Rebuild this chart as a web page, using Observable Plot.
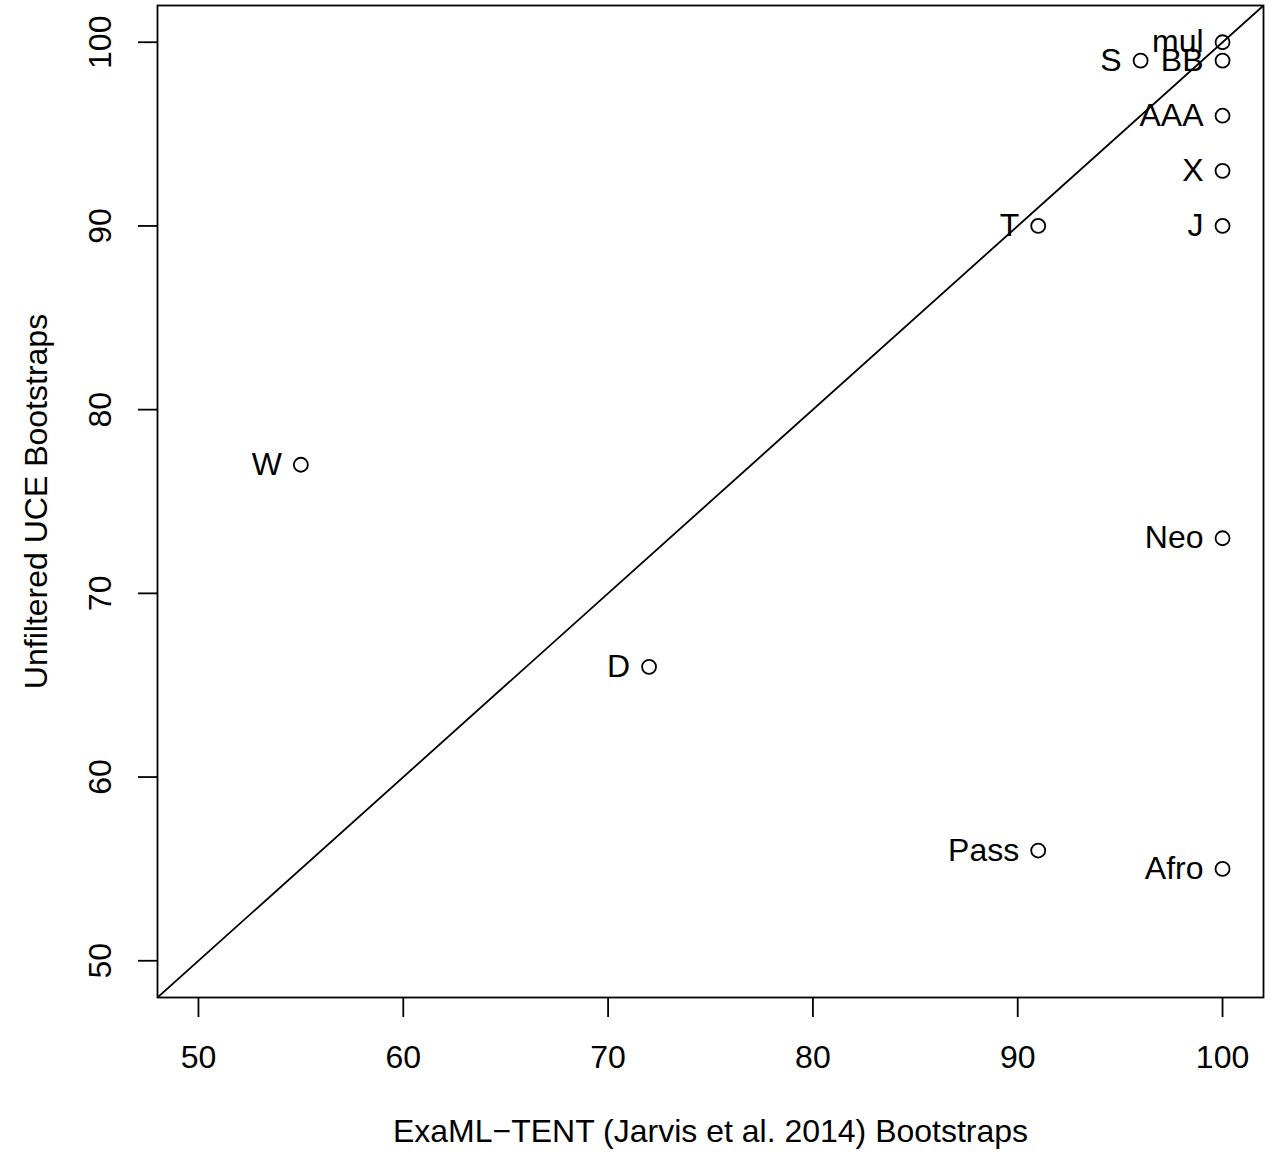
<!DOCTYPE html>
<html>
<head>
<meta charset="utf-8">
<script src="https://cdn.jsdelivr.net/npm/d3@7"></script>
<script src="https://cdn.jsdelivr.net/npm/@observablehq/plot@0.6"></script>
<style>
  html, body { margin: 0; padding: 0; background: white; }
  #chart { width: 1272px; height: 1152px; }
</style>
</head>
<body>
<div id="chart"></div>
<script>
// Data
const labels = ["mul", "S", "BB", "AAA", "X", "J", "T", "W", "D", "Neo", "Pass", "Afro"];
const examlValues = [100, 96, 100, 100, 100, 100, 91, 55, 72, 100, 91, 100];
const uceValues = [100, 99, 99, 96, 93, 90, 90, 77, 66, 73, 56, 55];
const xTicks = [50, 60, 70, 80, 90, 100];
const yTicks = [50, 60, 70, 80, 90, 100];
const axisDomain = [48, 102];
const xTitle = "ExaML\u2212TENT (Jarvis et al. 2014) Bootstraps";
const yTitle = "Unfiltered UCE Bootstraps";

const data = labels.map((l, i) => ({label: l, x: examlValues[i], y: uceValues[i]}));

const FS = 32;
const chart = Plot.plot({
  width: 1272,
  height: 1152,
  marginLeft: 157,
  marginRight: 9,
  marginTop: 5,
  marginBottom: 155,
  x: {domain: axisDomain},
  y: {domain: axisDomain},
  style: {fontFamily: "'Liberation Sans', Arial, Helvetica, sans-serif", background: "white", color: "black"},
  marks: [
    Plot.line(axisDomain, {x: d => d, y: d => d, stroke: "black", strokeWidth: 1.8, clip: true}),
    Plot.frame({stroke: "black", strokeWidth: 1.8}),
    Plot.axisX({ticks: xTicks, tickSize: 20, tickPadding: 28, fontSize: FS, label: null, strokeWidth: 1.8}),
    Plot.axisY({ticks: yTicks, tickSize: 19, tickFormat: () => "", label: null, strokeWidth: 1.8}),
    Plot.text(yTicks, {y: d => d, text: d => String(d), frameAnchor: "left", dx: -57, rotate: -90, lineAnchor: "middle", textAnchor: "middle", fontSize: FS}),
    Plot.text([xTitle], {text: d => d, frameAnchor: "bottom", dy: 134, lineAnchor: "middle", textAnchor: "middle", fontSize: FS}),
    Plot.text([yTitle], {text: d => d, frameAnchor: "left", dx: -121, rotate: -90, lineAnchor: "middle", textAnchor: "middle", fontSize: FS}),
    Plot.dot(data, {x: "x", y: "y", r: 7, stroke: "black", strokeWidth: 1.8, fill: "none"}),
    Plot.text(data, {x: "x", y: "y", text: "label", textAnchor: "end", dx: -19, lineAnchor: "middle", fontSize: FS})
  ]
});
document.getElementById("chart").appendChild(chart);
</script>
</body>
</html>
